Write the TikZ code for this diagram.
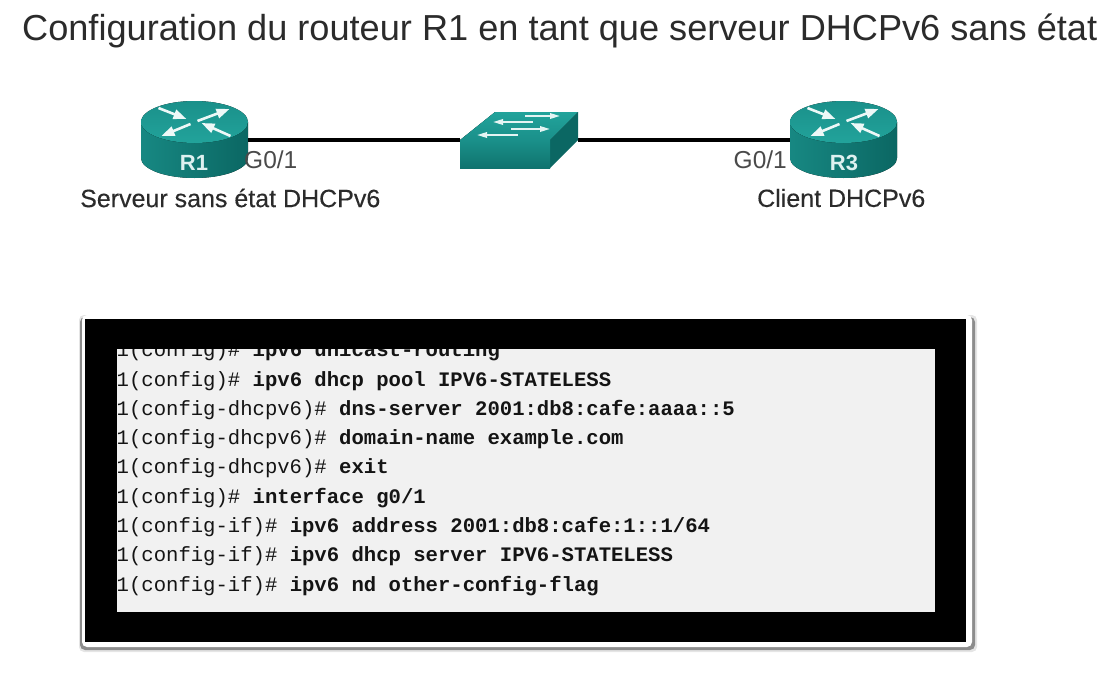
\documentclass[tikz,border=0pt]{standalone}
\usepackage{fontspec}
\setmainfont{Liberation Sans}
\setmonofont{Liberation Mono}
\usetikzlibrary{arrows.meta,positioning}
\definecolor{tealdark}{HTML}{0B6763}
\definecolor{tealmid}{HTML}{1A908A}
\definecolor{teallight}{HTML}{22A39B}
\definecolor{inktext}{HTML}{2B2B2B}
\definecolor{portgrey}{HTML}{4A4A4A}
\definecolor{screenfill}{HTML}{F1F1F1}

\begin{document}
\begin{tikzpicture}[x=1pt,y=-1pt,>=Stealth,
    spot/.style={inner sep=0pt, outer sep=0pt, minimum width=#1},
    caption/.style={text=inktext, font=\fontsize{25}{28}\selectfont\addfontfeature{FakeBold=0.25}, inner sep=0pt},
    portlabel/.style={text=portgrey, font=\fontsize{24.5}{26}\selectfont, inner sep=0pt},
    routername/.style={text=white!85!teallight, font=\fontsize{22}{24}\selectfont\bfseries, inner sep=0pt},
    cliline/.style={anchor=base west, inner sep=0pt, text=black!92, font=\fontsize{20.6}{24}\ttfamily},
    whitearrow/.style={->, white!92!teallight, line width=2.6pt, >={Triangle[width=9.5pt,length=13pt]}},
    swarrow/.style={->, white!88!teallight, line width=1.8pt, >={Triangle[width=5.5pt,length=10pt]}},
    router/.pic={
        % body, then top face, then the four arrows
        \fill[left color=tealmid!80!tealdark, middle color=tealmid, right color=tealdark]
            (-53.5,0) -- (-53.5,36) arc[start angle=180, end angle=0, x radius=53.5, y radius=20]
            -- (53.5,0) -- cycle;
        \fill[top color=tealmid, bottom color=teallight]
            (0,0) ellipse[x radius=53.5, y radius=21];
        \draw[whitearrow] (-36,-14) -- (-8,-3);
        \draw[whitearrow] (3,-1) -- (35,-13);
        \draw[whitearrow] (-4,2) -- (-33,14);
        \draw[whitearrow] (36,14) -- (7,1);
    },
    switchbox/.pic={
        \fill[top color=teallight, bottom color=tealmid] (0,0) -- (90,0) -- (118,-28) -- (35,-28) -- cycle;
        \fill[tealdark] (90,0) -- (118,-28) -- (118,0) -- (90,28) -- cycle;
        \fill[top color=tealmid, bottom color=tealdark!70!tealmid] (0,0) rectangle (90,28);
        \draw[swarrow] (65,-24) -- (100,-24);
        \draw[swarrow] (73,-18) -- (33,-18);
        \draw[swarrow] (51,-11) -- (90,-11);
        \draw[swarrow] (58,-5) -- (17,-5);
    }]
    \useasboundingbox (0,0) rectangle (1118,680);
    % Title
    \node[anchor=base west, inner sep=0pt, text=inktext, font=\fontsize{36.15}{40}\selectfont] (title) at (22,40)
        {Configuration du routeur R1 en tant que serveur DHCPv6 sans état};
    % Topology: spots for the devices, then link, then icons on top
    \node[spot=107, minimum height=76] (R1) at (194.5,140) {};
    \node[spot=118, minimum height=56] (SW) at (519,140) {};
    \node[spot=107, minimum height=76] (R3) at (843.5,140) {};
    \draw[line width=3.5pt] (R1) -- (SW);
    \draw[line width=3.5pt] (SW) -- (R3);
    \pic at (194.5,122) {router};
    \pic at (460,140) {switchbox};
    \pic at (843.5,122) {router};
    \node[routername] (R1name) at (194,163) {R1};
    \node[routername] (R3name) at (844,163) {R3};
    \node[portlabel, anchor=west] (R1port) at (244,160) {G0/1};
    \node[portlabel, anchor=east] (R3port) at (787,160) {G0/1};
    \node[caption, anchor=west] (R1role) at (80,198) {Serveur sans état DHCPv6};
    \node[caption, anchor=west] (R3role) at (757,198) {Client DHCPv6};
    % Terminal frame
    \fill[black!10, rounded corners=5pt] (79,315) rectangle (977,652);
    \fill[black!45, rounded corners=5pt] (80,317) rectangle (975,650);
    \fill[white, rounded corners=5pt] (82,315) rectangle (972,647);
    \fill[black] (85,319) rectangle (966,642);
    \fill[screenfill] (117,349) rectangle (935,612);
    % Commands, clipped by the screen
    \begin{scope}
        \clip (117,349) rectangle (935,612);
        \node[cliline] (line1) at (116.5,356.7) {1(config)\# \textbf{ipv6 unicast-routing}};
        \node[cliline] (line2) at (116.5,386) {1(config)\# \textbf{ipv6 dhcp pool IPV6-STATELESS}};
        \node[cliline] (line3) at (116.5,415.3) {1(config-dhcpv6)\# \textbf{dns-server 2001:db8:cafe:aaaa::5}};
        \node[cliline] (line4) at (116.5,444.6) {1(config-dhcpv6)\# \textbf{domain-name example.com}};
        \node[cliline] (line5) at (116.5,473.9) {1(config-dhcpv6)\# \textbf{exit}};
        \node[cliline] (line6) at (116.5,503.2) {1(config)\# \textbf{interface g0/1}};
        \node[cliline] (line7) at (116.5,532.5) {1(config-if)\# \textbf{ipv6 address 2001:db8:cafe:1::1/64}};
        \node[cliline] (line8) at (116.5,561.8) {1(config-if)\# \textbf{ipv6 dhcp server IPV6-STATELESS}};
        \node[cliline] (line9) at (116.5,591.1) {1(config-if)\# \textbf{ipv6 nd other-config-flag}};
    \end{scope}
\end{tikzpicture}
\end{document}
